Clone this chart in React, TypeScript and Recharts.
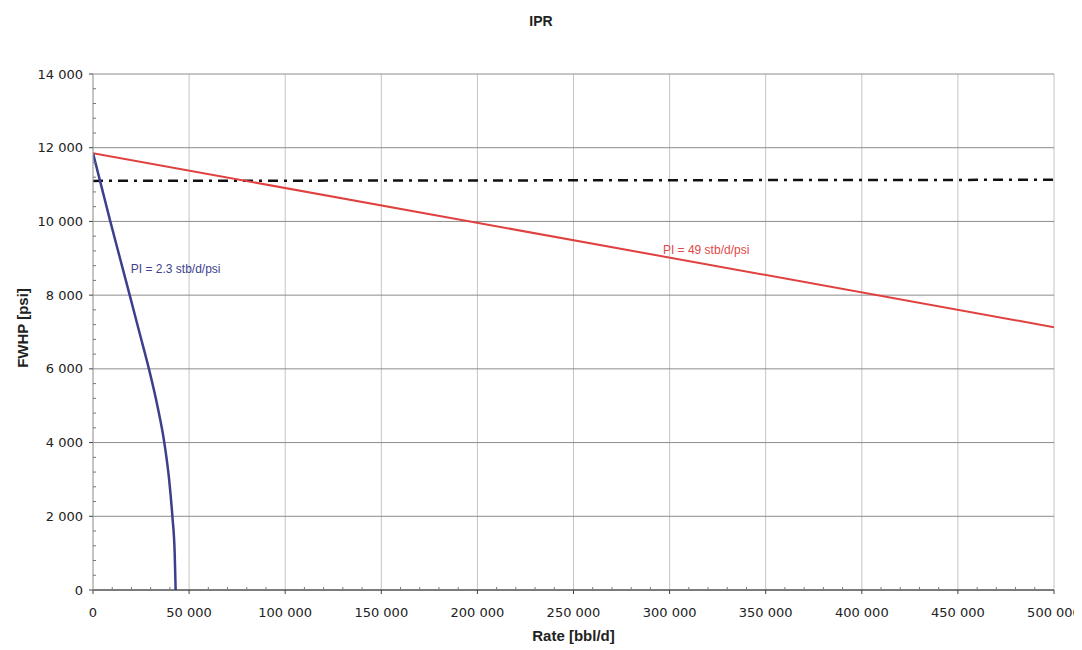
import React from "react";
import {
  LineChart,
  Line,
  XAxis,
  YAxis,
  CartesianGrid,
  ReferenceDot,
} from "recharts";

// ---- data ----
const bluePressure = [11850, 11000, 10000, 9000, 8000, 7000, 6000, 5000, 4000, 3000, 2000, 1000, 0];
const blueRate = [0, 4150, 9000, 14050, 19100, 24100, 29100, 33500, 37100, 39600, 41300, 42500, 43000];

const redRate = [0, 500000];
const redPressure = [11850, 7130];

const dashRate = [0, 500000];
const dashPressure = [11100, 11130];

const xMajorTicks = [0, 50000, 100000, 150000, 200000, 250000, 300000, 350000, 400000, 450000, 500000];
const yMajorTicks = [0, 2000, 4000, 6000, 8000, 10000, 12000, 14000];
const xMinorStep = 10000;
const yMinorStep = 400;

const blueLabel = "PI = 2.3 stb/d/psi";
const redLabel = "PI = 49 stb/d/psi";

const blueData = blueRate.map((x, i) => ({ x, y: bluePressure[i] }));
const redData = redRate.map((x, i) => ({ x, y: redPressure[i] }));
const dashData = dashRate.map((x, i) => ({ x, y: dashPressure[i] }));

const xAllTicks: number[] = [];
for (let v = 0; v <= 500000; v += xMinorStep) xAllTicks.push(v);
const yAllTicks: number[] = [];
for (let v = 0; v <= 14000; v += yMinorStep) yAllTicks.push(v);

const fmt = (v: number) => {
  const s = String(Math.round(v));
  return s.replace(/\B(?=(\d{3})+(?!\d))/g, " ");
};

const TICK_FONT = "'DejaVu Sans', sans-serif";

const XTick = (props: any) => {
  const { x, y, payload } = props;
  const v = payload.value;
  const major = xMajorTicks.includes(v);
  if (major) {
    return (
      <g>
        <line x1={x} x2={x} y1={y} y2={y + 4} stroke="#444" strokeWidth={1} />
        <text
          x={x}
          y={y + 18}
          dy="0.71em"
          textAnchor="middle"
          fontFamily={TICK_FONT}
          fontSize={13}
          fill="#222"
        >
          {fmt(v)}
        </text>
      </g>
    );
  }
  return <line x1={x} x2={x} y1={y} y2={y - 3} stroke="#777" strokeWidth={1} />;
};

const YTick = (props: any) => {
  const { x, y, payload } = props;
  const v = payload.value;
  const major = yMajorTicks.includes(v);
  if (major) {
    return (
      <g>
        <line x1={x - 4} x2={x} y1={y} y2={y} stroke="#444" strokeWidth={1} />
        <text
          x={x - 10}
          y={y}
          dy="0.355em"
          textAnchor="end"
          fontFamily={TICK_FONT}
          fontSize={13}
          fill="#222"
        >
          {fmt(v)}
        </text>
      </g>
    );
  }
  return <line x1={x} x2={x + 3} y1={y} y2={y} stroke="#777" strokeWidth={1} />;
};

export default function App() {
  return (
    <div style={{ position: "relative", width: 1074, height: 642 }}>
      <div
        style={{
          position: "absolute",
          left: 0,
          top: 5,
          width: 1066,
          textAlign: "center",
          fontFamily: "'Liberation Sans', Arial, sans-serif",
          fontWeight: "bold",
          fontSize: 14,
          color: "#222",
        }}
      >
        IPR
      </div>
      <div
        style={{
          position: "absolute",
          left: 85,
          top: 619,
          width: 961,
          textAlign: "center",
          fontFamily: "'Liberation Sans', Arial, sans-serif",
          fontWeight: "bold",
          fontSize: 15,
          color: "#222",
        }}
      >
        Rate [bbl/d]
      </div>
      <div
        style={{
          position: "absolute",
          left: 15 - 60,
          top: 320 - 10,
          width: 120,
          height: 20,
          lineHeight: "20px",
          textAlign: "center",
          transform: "rotate(-90deg)",
          fontFamily: "'Liberation Sans', Arial, sans-serif",
          fontWeight: "bold",
          fontSize: 15,
          color: "#222",
        }}
      >
        FWHP [psi]
      </div>
      <LineChart
        width={1074}
        height={642}
        margin={{ top: 66, right: 28, bottom: 30, left: 20 }}
      >
        <CartesianGrid
          horizontal={false}
          vertical={true}
          stroke="#c4c4c4"
          verticalValues={xMajorTicks}
        />
        <CartesianGrid
          horizontal={true}
          vertical={false}
          stroke="#8c8c8c"
          horizontalValues={yMajorTicks}
        />
        <XAxis
          type="number"
          dataKey="x"
          domain={[0, 500000]}
          ticks={xAllTicks}
          interval={0}
          tick={<XTick />}
          tickLine={false}
          tickSize={0}
          tickMargin={0}
          height={30}
          stroke="#333"
          allowDataOverflow
        />
        <YAxis
          type="number"
          dataKey="y"
          domain={[0, 14000]}
          ticks={yAllTicks}
          interval={0}
          tick={<YTick />}
          tickLine={false}
          tickSize={0}
          tickMargin={0}
          width={65}
          stroke="#a8a8a8"
          allowDataOverflow
        />
        <Line
          data={dashData}
          dataKey="y"
          type="linear"
          stroke="#111"
          strokeWidth={2.5}
          strokeDasharray="10 6 3 6"
          dot={false}
          activeDot={false}
          isAnimationActive={false}
        />
        <Line
          data={redData}
          dataKey="y"
          type="linear"
          stroke="#e0413f"
          strokeWidth={2}
          dot={false}
          activeDot={false}
          isAnimationActive={false}
        />
        <Line
          data={blueData}
          dataKey="y"
          type="monotone"
          stroke="#3b3f8c"
          strokeWidth={2.5}
          dot={false}
          activeDot={false}
          isAnimationActive={false}
        />
        <ReferenceDot
          x={43000}
          y={8720}
          r={0}
          fill="none"
          stroke="none"
          label={{
            value: blueLabel,
            position: "center",
            fill: "#3d3f8e",
            fontSize: 12,
            fontFamily: "'Liberation Sans', Arial, sans-serif",
          }}
        />
        <ReferenceDot
          x={319000}
          y={9220}
          r={0}
          fill="none"
          stroke="none"
          label={{
            value: redLabel,
            position: "center",
            fill: "#e04a48",
            fontSize: 12,
            fontFamily: "'Liberation Sans', Arial, sans-serif",
          }}
        />
      </LineChart>
    </div>
  );
}
